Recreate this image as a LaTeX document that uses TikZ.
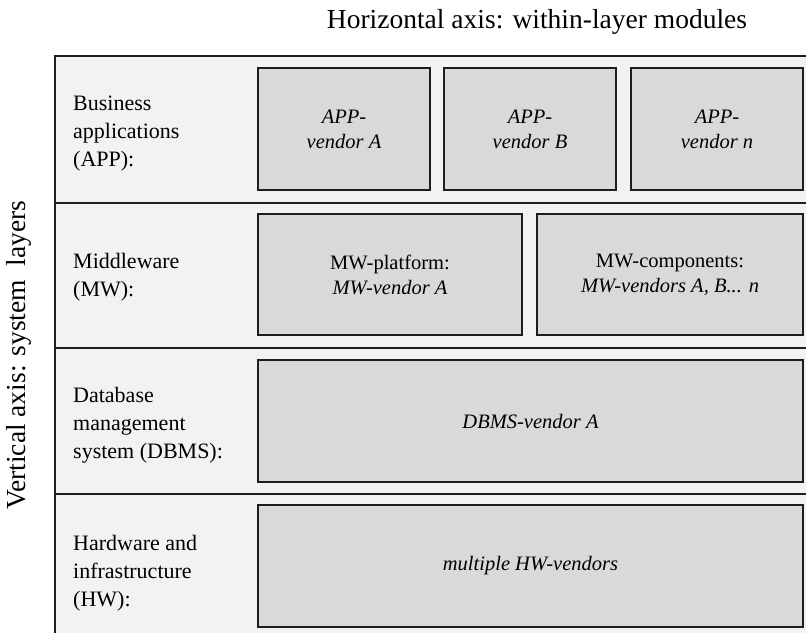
\documentclass[tikz,border=0pt]{standalone}
\usepackage{fontspec}
\setmainfont{Liberation Serif}
\usetikzlibrary{positioning}

\definecolor{rowgray}{HTML}{F2F2F2}
\definecolor{boxgray}{HTML}{D9D9D9}
\definecolor{edgegray}{HTML}{1E1E1E}

\tikzset{
	layer/.style={rectangle, draw=edgegray, fill=rowgray, line width=1.5pt, outer sep=0pt, inner sep=0pt, minimum width=760pt},
	vendorbox/.style={rectangle, draw=edgegray, fill=boxgray, line width=1.5pt, outer sep=0pt, inner sep=2pt, align=center, font=\fontsize{20.5}{25}\selectfont},
	rowlabel/.style={anchor=west, align=left, inner sep=0pt, font=\fontsize{22}{28}\selectfont},
	axislabel/.style={inner sep=0pt, font=\fontsize{27.5}{33}\selectfont}
}

\begin{document}
\begin{tikzpicture}[x=1pt,y=-1pt,node distance=0pt]
	\clip (0,0) rectangle (806,632);
	\fill[white] (0,0) rectangle (806,632);

	% layers
	\node[layer, minimum height=147pt, anchor=north west] (layApp) at (55,56) {};
	\node[layer, minimum height=145pt] (layMW) [below=of layApp] {};
	\node[layer, minimum height=146pt] (layDB) [below=of layMW] {};
	\node[layer, minimum height=146pt] (layHW) [below=of layDB] {};

	% row labels
	\node[rowlabel] (labApp) at ([xshift=18pt,yshift=-4pt]layApp.west) {Business\\applications\\(APP):};
	\node[rowlabel] (labMW) at ([xshift=18pt,yshift=-2pt]layMW.west) {Middleware\\(MW):};
	\node[rowlabel] (labDB) at ([xshift=18pt,yshift=-4pt]layDB.west) {Database\\management\\system (DBMS):};
	\node[rowlabel] (labHW) at ([xshift=18pt,yshift=-6pt]layHW.west) {Hardware and\\infrastructure\\(HW):};

	% vendor boxes
	\node[vendorbox, minimum width=172pt, minimum height=122pt, anchor=north west] (appA) at (258,68) {\itshape APP-\\\itshape vendor A};
	\node[vendorbox, minimum width=172pt, minimum height=122pt] (appB) [right=14pt of appA] {\itshape APP-\\\itshape vendor B};
	\node[vendorbox, minimum width=172pt, minimum height=122pt] (appN) [right=15pt of appB] {\itshape APP-\\\itshape vendor n};

	\node[vendorbox, minimum width=264pt, minimum height=121pt, anchor=north west] (mwPlat) at (258,214) {MW-platform:\\\itshape MW-vendor A};
	\node[vendorbox, minimum width=266pt, minimum height=121pt] (mwComp) [right=15pt of mwPlat] {MW-components:\\\itshape MW-vendors A, B... n};

	\node[vendorbox, minimum width=545pt, minimum height=122pt, anchor=north west] (dbms) at (258,360) {\itshape DBMS-vendor A};
	\node[vendorbox, minimum width=545pt, minimum height=122pt, anchor=north west] (hw) at (258,505) {\itshape multiple HW-vendors};

	% axes
	\node[axislabel] (hAxis) at (537,22) {Horizontal axis: within-layer modules};
	\node[axislabel, rotate=90] (vAxis) at (19,355) {Vertical axis: system\ \ layers};
\end{tikzpicture}
\end{document}
